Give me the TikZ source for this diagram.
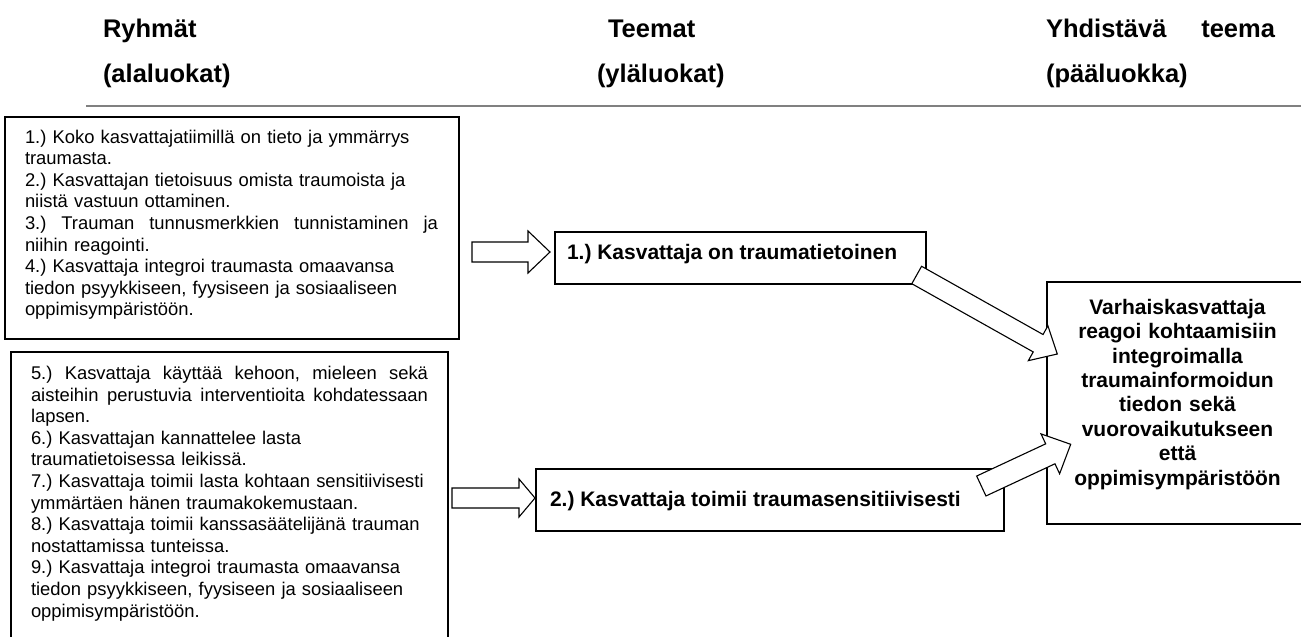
\documentclass[tikz,border=0pt]{standalone}
\usepackage{fontspec}
\setmainfont{Liberation Sans}
\usetikzlibrary{calc,fit}
\frenchspacing
\newcommand{\bodyfont}{\fontsize{18.4}{21.6}\selectfont}
\newcommand{\headfont}{\fontsize{25.5}{30}\selectfont\bfseries}
\newcommand{\themefont}{\fontsize{21}{24.4}\selectfont\bfseries}
\newcommand{\justline}[2]{\leavevmode\hbox to #1{#2}}
\newcommand{\blockarrow}[6]{%
  \coordinate (#1hb) at ($(#3)!#6!(#2)$);
  \draw[barrow] ($(#2)!#4!90:(#3)$) -- ($(#1hb)!#4!90:(#3)$) -- ($(#1hb)!#5!90:(#3)$)
    -- (#3) -- ($(#1hb)!#5!-90:(#3)$) -- ($(#1hb)!#4!-90:(#3)$) -- ($(#2)!#4!-90:(#3)$) -- cycle;}
\tikzset{
  frame/.style={draw=black, line width=1.1pt, inner sep=0pt},
  txt/.style={inner sep=0pt, outer sep=0pt},
  barrow/.style={draw=black, line width=1.1pt, fill=white, line join=miter},
  rule/.style={draw=black!50, line width=2.4pt},
}
\begin{document}
\begin{tikzpicture}[x=1pt,y=-1pt,font=\frenchspacing]
\useasboundingbox (0,0) rectangle (1301,637);
% headers
\node[txt, anchor=base west, font=\headfont] (h1a) at (103,37.5) {Ryhmät};
\node[txt, anchor=base west, font=\headfont] (h1b) at (103,82) {(alaluokat)};
\node[txt, anchor=base west, font=\headfont] (h2a) at (608,37.5) {Teemat};
\node[txt, anchor=base west, font=\headfont] (h2b) at (597,82) {(yläluokat)};
\node[txt, anchor=base west, font=\headfont] (h3a) at (1046,37.5) {\justline{229pt}{Yhdistävä\hfill teema}};
\node[txt, anchor=base west, font=\headfont] (h3b) at (1046,82) {(pääluokka)};
\coordinate (rl) at (86,106);
\coordinate (rr) at (1301,106);
\draw[rule] (rl) -- (rr);
% group boxes
\node[frame, fit={(5,117) (459,339)}] (g1) {};
\node[txt, anchor=north west, text width=413pt, align=left, font=\bodyfont\frenchspacing] (g1t) at (25,127.9)
 {\strut 1.) Koko kasvattajatiimillä on tieto ja ymmärrys\\
  traumasta.\\
  2.) Kasvattajan tietoisuus omista traumoista ja\\
  niistä vastuun ottaminen.\\
  \justline{413pt}{3.)\hfill Trauman\hfill tunnusmerkkien\hfill tunnistaminen\hfill ja}\\
  niihin reagointi.\\
  4.) Kasvattaja integroi traumasta omaavansa\\
  tiedon psyykkiseen, fyysiseen ja sosiaaliseen\\
  oppimisympäristöön.};
\node[frame, fit={(11,352) (448,660)}] (g2) {};
\node[txt, anchor=north west, text width=397pt, align=left, font=\bodyfont\frenchspacing] (g2t) at (31,364.4)
 {\strut\justline{397pt}{5.)\hfill Kasvattaja\hfill käyttää\hfill kehoon,\hfill mieleen\hfill sekä}\\
  \justline{397pt}{aisteihin\hfill perustuvia\hfill interventioita\hfill kohdatessaan}\\
  lapsen.\\
  6.) Kasvattajan kannattelee lasta\\
  traumatietoisessa leikissä.\\
  7.) Kasvattaja toimii lasta kohtaan sensitiivisesti\\
  ymmärtäen hänen traumakokemustaan.\\
  8.) Kasvattaja toimii kanssasäätelijänä trauman\\
  nostattamissa tunteissa.\\
  9.) Kasvattaja integroi traumasta omaavansa\\
  tiedon psyykkiseen, fyysiseen ja sosiaaliseen\\
  oppimisympäristöön.};
% theme boxes
\node[frame, fit={(555,232) (926,284)}] (t1) {};
\node[txt, anchor=base west, font=\themefont\frenchspacing] (t1t) at (567,259.5) {1.) Kasvattaja on traumatietoinen};
\node[frame, fit={(536,469) (1004,531)}] (t2) {};
\node[txt, anchor=base west, font=\themefont\frenchspacing] (t2t) at (550,506) {2.) Kasvattaja toimii traumasensitiivisesti};
% main box
\node[frame, fit={(1047,282) (1310,524)}] (m) {};
\node[txt, anchor=north, text width=260pt, align=center, font=\themefont] (mt) at (1177.5,297.2)
 {\strut Varhaiskasvattaja\\ reagoi kohtaamisiin\\ integroimalla\\ traumainformoidun\\ tiedon sekä\\ vuorovaikutukseen\\ että\\ oppimisympäristöön};
% arrows
\coordinate (a1s) at (472,252);   \coordinate (a1e) at (550,252);
\coordinate (a2s) at (452,498);   \coordinate (a2e) at (535,498);
\coordinate (a3s) at (916.7,275); \coordinate (a3e) at (1057.3,354);
\coordinate (a4s) at (981.3,486); \coordinate (a4e) at (1070.7,444.3);
\blockarrow{a1}{a1s}{a1e}{10pt}{21pt}{22pt}
\blockarrow{a2}{a2s}{a2e}{10pt}{19pt}{16pt}
\blockarrow{a3}{a3s}{a3e}{10pt}{20pt}{22pt}
\blockarrow{a4}{a4s}{a4e}{11pt}{22pt}{22.5pt}
\end{tikzpicture}
\end{document}
